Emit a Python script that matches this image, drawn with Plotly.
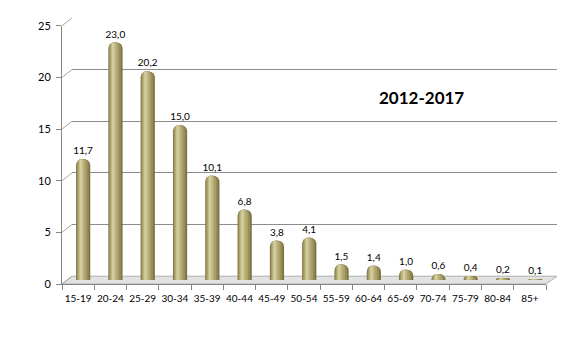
import plotly.graph_objects as go

categories = ["15-19", "20-24", "25-29", "30-34", "35-39", "40-44", "45-49", "50-54",
              "55-59", "60-64", "65-69", "70-74", "75-79", "80-84", "85+"]
values = [11.7, 23.0, 20.2, 15.0, 10.1, 6.8, 3.8, 4.1, 1.5, 1.4, 1.0, 0.6, 0.4, 0.2, 0.1]
y_ticks = [0, 5, 10, 15, 20, 25]
title_text = "2012-2017"

FONT = "Lato, 'Open Sans', sans-serif"
AX = "#868686"

# geometry of the pseudo-3D box (fractions of plot area)
FX = 0.9778   # front x extent
BX0 = 0.0202  # back x start
FY = 0.9707   # front y extent
BY0 = 0.0293  # back y start

fig = go.Figure()

# invisible traces to anchor front and back axes
fig.add_trace(go.Scatter(x=categories, y=values, mode="markers", marker=dict(opacity=0),
                         hoverinfo="skip", showlegend=False, xaxis="x", yaxis="y"))
fig.add_trace(go.Scatter(x=categories, y=values, mode="markers", marker=dict(opacity=0),
                         hoverinfo="skip", showlegend=False, xaxis="x2", yaxis="y2"))

# cylinder shading layers: (width, centre shift, colour)
layers = [
    (0.44, 0.0, "#7A7245"),
    (0.37, -0.015, "#958C58"),
    (0.28, -0.035, "#ABA26C"),
    (0.17, -0.055, "#C0B882"),
    (0.07, -0.07, "#D4CD9F"),
]
for i, (w, c, col) in enumerate(layers):
    fig.add_trace(go.Bar(
        x=categories, y=values, xaxis="x3", yaxis="y3",
        width=w, offset=c - w / 2,
        marker=dict(color=col, line=dict(width=0), cornerradius="48%"),
        text=values if i == 0 else None,
        texttemplate="%{y:.1f}" if i == 0 else None,
        textposition="outside" if i == 0 else "none",
        constraintext="none",
        textfont=dict(family=FONT, size=10, color="#000000"),
        cliponaxis=False, hoverinfo="skip", showlegend=False,
    ))

shapes = []
# floor
shapes.append(dict(type="path", xref="paper", yref="paper",
                   path=f"M 0 0 L {FX} 0 L 1 {BY0} L {BX0} {BY0} Z",
                   fillcolor="#E2E2E2", line=dict(color="#AFAFAF", width=1), layer="below"))
# side-wall diagonals at each tick
for v in y_ticks:
    yf = FY * v / 25
    yb = BY0 + FY * v / 25
    shapes.append(dict(type="line", xref="paper", yref="paper",
                       x0=0, y0=yf, x1=BX0, y1=yb,
                       line=dict(color="#A6A6A6", width=1), layer="below"))

fig.update_layout(
    width=586, height=344,
    margin=dict(l=62, r=29, t=11, b=60),
    paper_bgcolor="white", plot_bgcolor="rgba(0,0,0,0)",
    separators=",.",
    barmode="overlay",
    font=dict(family=FONT, size=10, color="#000000"),
    shapes=shapes,
    xaxis=dict(domain=[0, FX], anchor="y", type="category", categoryorder="array",
               categoryarray=categories, range=[-0.5, 14.5], tickangle=0,
               tickson="boundaries", ticks="outside", ticklen=5, tickcolor=AX,
               ticklabelstandoff=5,
               showline=True, linecolor=AX, showgrid=False, zeroline=False,
               tickfont=dict(family=FONT, size=10, color="#000")),
    yaxis=dict(domain=[0, FY], anchor="x", range=[0, 25], tickvals=y_ticks,
               ticks="outside", ticklen=5, tickcolor=AX, showline=True, linecolor=AX,
               ticklabelstandoff=3,
               showgrid=False, zeroline=False,
               tickfont=dict(family=FONT, size=11, color="#000")),
    xaxis2=dict(domain=[BX0, 1], anchor="y2", type="category", categoryorder="array",
                categoryarray=categories, range=[-0.5, 14.5],
                showticklabels=False, ticks="", showline=False, showgrid=False, zeroline=False),
    yaxis2=dict(domain=[BY0, 1], anchor="x2", range=[0, 25], tickvals=y_ticks,
                showticklabels=False, ticks="", showline=False, showgrid=True,
                gridcolor="#8C8C8C", gridwidth=1, zeroline=False),
    xaxis3=dict(domain=[BX0 / 2, (FX + 1) / 2], anchor="y3", type="category",
                categoryorder="array", categoryarray=categories, range=[-0.5, 14.5],
                visible=False),
    yaxis3=dict(domain=[BY0 / 2, (FY + 1) / 2], anchor="x3", range=[0, 25], visible=False),
    annotations=[dict(text=f"<b>{title_text}</b>", xref="paper", yref="paper",
                      x=0.727, y=0.70, xanchor="center", yanchor="middle", showarrow=False,
                      font=dict(family=FONT, size=17, color="#000"))],
)

fig.write_html("out.html")
